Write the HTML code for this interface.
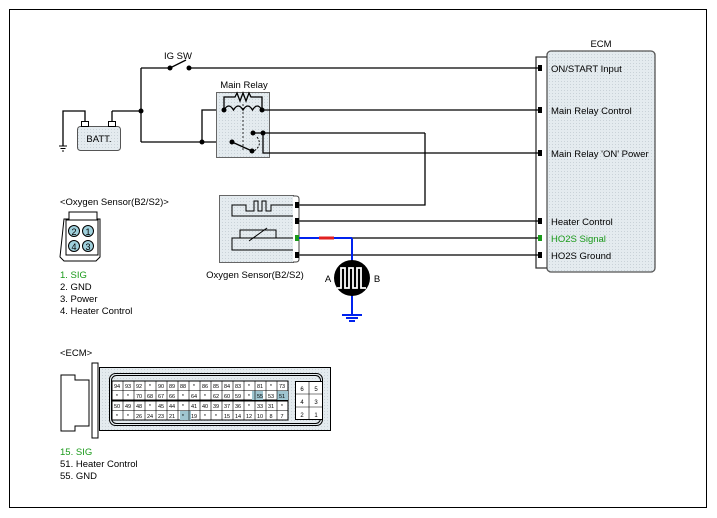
<!DOCTYPE html>
<html><head><style>
body{margin:0;background:#fff}
svg{display:block;font-family:"Liberation Sans",Arial,sans-serif}
</style></head><body>
<svg width="717" height="518" viewBox="0 0 717 518" xmlns="http://www.w3.org/2000/svg">
<defs>
<pattern id="dots" width="3" height="3" patternUnits="userSpaceOnUse"><rect width="3" height="3" fill="#e4ebef"/><rect width="1" height="1" fill="#c9d2d8"/></pattern>
</defs>
<rect x="9.5" y="9.5" width="697" height="498" fill="#fff" stroke="#000"/>
<g stroke="#000" stroke-width="1.3" fill="none">
<!-- ECM block -->
<rect x="547" y="51" width="108" height="221" rx="4" fill="url(#dots)" stroke="#555"/>
<polyline points="547,57 536,57 536,268 547,268" stroke="#333"/>
<!-- wires -->
<line x1="190" y1="68" x2="538" y2="68"/>
<line x1="141" y1="68" x2="170" y2="68"/>
<line x1="170" y1="68" x2="186" y2="60"/>
<line x1="141" y1="68" x2="141" y2="142"/>
<line x1="112" y1="111" x2="141" y2="111"/>
<polyline points="112,122 112,111"/>
<polyline points="85,122 85,111 63,111 63,146"/>
<line x1="141" y1="142" x2="232" y2="142"/>
<polyline points="202,142 202,110 224,110"/>
</g>
<!-- relay -->
<rect x="216.5" y="92.5" width="53" height="65" fill="url(#dots)" stroke="#666"/>
<g stroke="#000" stroke-width="1.3" fill="none">
<polyline points="224,110 224,97 235,97 237,93 240,101 243,93 246,101 249,93 251,97 262,97 262,110"/>
<path d="M224,110 q4.75,-8 9.5,0 q4.75,-8 9.5,0 q4.75,-8 9.5,0 q4.75,-8 9.5,0"/>
<line x1="243" y1="104" x2="243" y2="150" stroke-dasharray="2,2" stroke-width="0.8"/>
<line x1="262" y1="110" x2="538" y2="110"/>
<line x1="232" y1="142" x2="252" y2="151"/>
<path d="M257,137 q6,8 -3,14" stroke-dasharray="2,1.5" stroke-width="0.9"/>
<line x1="253" y1="133" x2="425" y2="133"/>
<polyline points="425,133 425,205 298,205"/>
<polyline points="263,133 263,153 538,153"/>
<line x1="298" y1="221" x2="538" y2="221"/>
<line x1="352" y1="238" x2="538" y2="238"/>
<line x1="298" y1="255" x2="538" y2="255"/>
</g>
<g fill="#000">
<circle cx="170" cy="68" r="2.5"/><circle cx="189" cy="68" r="2.5"/>
<circle cx="141" cy="111" r="2.5"/><circle cx="202" cy="142" r="2.5"/>
<circle cx="224" cy="110" r="2.5"/><circle cx="262" cy="110" r="2.5"/>
<circle cx="232" cy="142" r="2.5"/><circle cx="252" cy="151" r="2.5"/>
<circle cx="253" cy="133" r="2.5"/><circle cx="263" cy="133" r="2.5"/>
<rect x="538" y="65" width="4" height="6"/><rect x="538" y="107" width="4" height="6"/>
<rect x="538" y="150" width="4" height="6"/><rect x="538" y="218" width="4" height="6"/>
<rect x="538" y="235" width="4" height="6" fill="#1a9a1a"/><rect x="538" y="252" width="4" height="6"/>
</g>
<!-- battery -->
<rect x="77.5" y="126.5" width="43" height="24" rx="3" fill="url(#dots)" stroke="#555"/>
<rect x="81.5" y="121.5" width="7" height="5" fill="#fff" stroke="#000"/>
<rect x="108.5" y="121.5" width="7" height="5" fill="#fff" stroke="#000"/>
<text x="99" y="142" font-size="9.5" text-anchor="middle">BATT.</text>
<g stroke="#000"><line x1="59" y1="146" x2="67" y2="146"/><line x1="60.5" y1="148.5" x2="65.5" y2="148.5"/><line x1="62" y1="151" x2="64" y2="151"/></g>
<text x="178" y="59" font-size="9.5" text-anchor="middle">IG SW</text>
<text x="244" y="88" font-size="9.5" text-anchor="middle">Main Relay</text>
<text x="601" y="47" font-size="9.5" text-anchor="middle">ECM</text>
<g font-size="9.5">
<text x="551" y="72">ON/START Input</text>
<text x="551" y="114">Main Relay Control</text>
<text x="551" y="157">Main Relay 'ON' Power</text>
<text x="551" y="225">Heater Control</text>
<text x="551" y="242" fill="#1a9a1a">HO2S  Signal</text>
<text x="551" y="259">HO2S  Ground</text>
</g>
<!-- oxygen sensor -->
<rect x="219.5" y="195.5" width="74" height="67" fill="url(#dots)" stroke="#666"/>
<path d="M293,196 h3 q3,0 3,3 v60 q0,3 -3,3 h-3" fill="#fff" stroke="#444"/>
<g stroke="#000" stroke-width="1" fill="none">
<polyline points="293,205 271,205 271,211 266,211 266,201 262,201 262,211 258,211 258,201 254,201 254,211 246,211 246,205 232,205 232,216 293,216"/>
<polyline points="293,238 276,238 276,230 240,230 240,238 232,238 232,250 293,250"/>
<rect x="240" y="230" width="36" height="8" fill="none"/>
<line x1="249" y1="241" x2="267" y2="228"/>
</g>
<g fill="#000"><rect x="295" y="202" width="4" height="6"/><rect x="295" y="218" width="4" height="6"/><rect x="295" y="252" width="4" height="6"/></g>
<rect x="295" y="235" width="4" height="6" fill="#1a9a1a"/>
<g stroke="#0022ee" stroke-width="2" fill="none">
<line x1="299" y1="238" x2="352" y2="238"/>
<line x1="352" y1="238" x2="352" y2="262"/>
<line x1="352" y1="294" x2="352" y2="315"/>
<line x1="342" y1="315" x2="362" y2="315"/><line x1="346" y1="318" x2="358" y2="318"/><line x1="349" y1="321" x2="355" y2="321"/>
</g>
<line x1="319" y1="238" x2="334" y2="238" stroke="#e02020" stroke-width="3"/>
<circle cx="352" cy="278" r="18" fill="#000"/>
<polyline points="337,288 341,288 341,268 345,268 345,288 349,288 349,268 353,268 353,288 357,288 357,268 361,268 361,288 366,288" fill="none" stroke="#fff" stroke-width="1.8"/>
<text x="328" y="282" font-size="9.5" text-anchor="middle">A</text>
<text x="377" y="282" font-size="9.5" text-anchor="middle">B</text>
<text x="255" y="278" font-size="9.5" text-anchor="middle">Oxygen Sensor(B2/S2)</text>
<!-- connector icon -->
<text x="60" y="205" font-size="9.5">&lt;Oxygen Sensor(B2/S2)&gt;</text>
<path d="M64,219 h5 v-7 h28 v7 h3 v38 l-4,4 h-32 l-4,-4 z" fill="#fff" stroke="#000"/>
<rect x="66" y="220" width="32" height="35" fill="none" stroke="#000"/>
<g fill="#9fd0dc" stroke="#000" font-size="9">
<circle cx="74" cy="231" r="5.5"/><circle cx="88" cy="231" r="5.5"/><circle cx="74" cy="246" r="5.5"/><circle cx="88" cy="246" r="5.5"/>
</g>
<g font-size="9" text-anchor="middle"><text x="74" y="235">2</text><text x="88" y="235">1</text><text x="74" y="250">4</text><text x="88" y="250">3</text></g>
<g font-size="9.5">
<text x="60" y="278" fill="#1a9a1a">1. SIG</text>
<text x="60" y="290">2. GND</text>
<text x="60" y="302">3. Power</text>
<text x="60" y="314">4. Heater Control</text>
<text x="60" y="356">&lt;ECM&gt;</text>
<text x="60" y="455" fill="#1a9a1a">15. SIG</text>
<text x="60" y="467">51. Heater Control</text>
<text x="60" y="479">55. GND</text>
</g>
<!-- ECM connector -->
<path d="M61,375 h14 v5 h14 v46 h-14 v5 h-14 z" fill="#fff" stroke="#000"/>
<rect x="92" y="363" width="6" height="75" fill="#fff" stroke="#000"/>
<rect x="99.5" y="367.5" width="231" height="63" fill="url(#dots)" stroke="#000"/>
<rect x="109.5" y="373.5" width="213" height="52" rx="6" fill="none" stroke="#000"/>
<rect x="111.5" y="375.5" width="209" height="48" rx="5" fill="none" stroke="#000"/>
<rect x="112" y="381" width="176" height="19" fill="#fff" stroke="#000"/>
<rect x="112" y="401" width="176" height="19" fill="#fff" stroke="#000"/>
<g stroke="#000" stroke-width="0.6">
<line x1="112" y1="390.5" x2="288" y2="390.5"/><line x1="112" y1="410.5" x2="288" y2="410.5"/>
</g>
<rect x="252" y="391" width="11" height="9" fill="#9fc5d0"/><rect x="277" y="391" width="11" height="9" fill="#9fc5d0"/>
<rect x="180" y="411" width="11" height="9" fill="#9fc5d0"/>
<g stroke="#000" stroke-width="0.6">
<path d="M123,381v39M134,381v39M145,381v39M156,381v39M167,381v39M178,381v39M189,381v39M200,381v39M211,381v39M222,381v39M233,381v39M244,381v39M255,381v39M266,381v39M277,381v39"/>
</g>
<rect x="295.5" y="381.5" width="27" height="38" fill="#fff" stroke="#000"/>
<g stroke="#000" stroke-width="0.6"><path d="M309,381v38M295,394h27M295,407h27"/></g>
<g font-size="6" text-anchor="middle"><text x="302" y="391">6</text><text x="316" y="391">5</text><text x="302" y="404">4</text><text x="316" y="404">3</text><text x="302" y="417">2</text><text x="316" y="417">1</text></g>
<g font-size="5.5" text-anchor="middle">
<text x="117" y="388">94</text><text x="128" y="388">93</text><text x="139" y="388">92</text><text x="150" y="388">*</text><text x="161" y="388">90</text><text x="172" y="388">89</text><text x="183" y="388">88</text><text x="194" y="388">*</text><text x="205" y="388">86</text><text x="216" y="388">85</text><text x="227" y="388">84</text><text x="238" y="388">83</text><text x="249" y="388">*</text><text x="260" y="388">81</text><text x="271" y="388">*</text><text x="282" y="388">73</text>
<text x="117" y="398">*</text><text x="128" y="398">*</text><text x="139" y="398">70</text><text x="150" y="398">68</text><text x="161" y="398">67</text><text x="172" y="398">66</text><text x="183" y="398">*</text><text x="194" y="398">64</text><text x="205" y="398">*</text><text x="216" y="398">62</text><text x="227" y="398">60</text><text x="238" y="398">59</text><text x="249" y="398">*</text><text x="260" y="398">55</text><text x="271" y="398">53</text><text x="282" y="398">51</text>
<text x="117" y="408">50</text><text x="128" y="408">49</text><text x="139" y="408">48</text><text x="150" y="408">*</text><text x="161" y="408">45</text><text x="172" y="408">44</text><text x="183" y="408">*</text><text x="194" y="408">41</text><text x="205" y="408">40</text><text x="216" y="408">39</text><text x="227" y="408">37</text><text x="238" y="408">36</text><text x="249" y="408">*</text><text x="260" y="408">33</text><text x="271" y="408">31</text><text x="282" y="408">*</text>
<text x="117" y="418">*</text><text x="128" y="418">*</text><text x="139" y="418">26</text><text x="150" y="418">24</text><text x="161" y="418">23</text><text x="172" y="418">21</text><text x="183" y="418">*</text><text x="194" y="418">19</text><text x="205" y="418">*</text><text x="216" y="418">*</text><text x="227" y="418">15</text><text x="238" y="418">14</text><text x="249" y="418">12</text><text x="260" y="418">10</text><text x="271" y="418">8</text><text x="282" y="418">7</text>
</g>
</svg>
</body></html>
